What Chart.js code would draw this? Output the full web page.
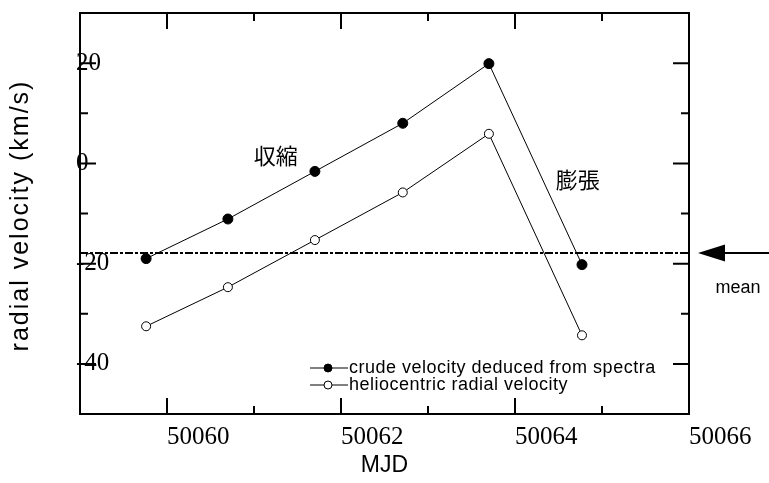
<!DOCTYPE html>
<html>
<head>
<meta charset="utf-8">
<script src="https://cdn.jsdelivr.net/npm/chart.js@4"></script>
<style>
  body { margin: 0; background: #fff; }
  canvas { display: block; }
</style>
</head>
<body>
<canvas id="rvChart" width="769" height="483"></canvas>
<script>
// MJD of each observation
const mjd = [50059.76, 50060.70, 50061.70, 50062.71, 50063.70, 50064.77];
// velocities in km/s
const crudeVelocity = [-19.0, -11.1, -1.6, 8.0, 19.9, -20.2];
const helioVelocity = [-32.5, -24.7, -15.3, -5.8, 5.9, -34.3];
const meanVelocity = -17.9;

const xLabels = [50060, 50062, 50064, 50066];
const yLabels = [20, 0, -20, -40];

const seriesNames = ['crude velocity deduced from spectra', 'heliocentric radial velocity'];
const yTitle = 'radial velocity (km/s)';
const phaseNotes = [
    { text: '収縮', x: 50061.25, y: 1.5 },
    { text: '膨張', x: 50064.72, y: -3.3 }
];

const serif = 'Liberation Serif, Times New Roman, serif';
const sans = 'Liberation Sans, Arial, sans-serif';

const toPoints = (xs, ys) => xs.map((x, i) => ({ x: x, y: ys[i] }));

// frame, inward ticks, y title, arrow, notes and legend
const decorations = {
    id: 'decorations',
    afterDraw(chart) {
        const ctx = chart.ctx;
        const a = chart.chartArea;
        const xs = chart.scales.x;
        const ys = chart.scales.y;
        ctx.save();
        ctx.strokeStyle = '#000';
        ctx.fillStyle = '#000';
        ctx.lineWidth = 2;
        ctx.strokeRect(a.left, a.top, a.right - a.left, a.bottom - a.top);

        ctx.beginPath();
        for (let v = 50059; v <= 50066; v++) {
            const px = xs.getPixelForValue(v);
            const len = v % 2 === 0 ? 16 : 8;
            ctx.moveTo(px, a.bottom); ctx.lineTo(px, a.bottom - len);
            ctx.moveTo(px, a.top); ctx.lineTo(px, a.top + len);
        }
        for (let v = -50; v <= 30; v += 10) {
            const py = ys.getPixelForValue(v);
            const len = v % 20 === 0 ? 16 : 8;
            ctx.moveTo(a.left, py); ctx.lineTo(a.left + len, py);
            ctx.moveTo(a.right, py); ctx.lineTo(a.right - len, py);
        }
        ctx.stroke();

        ctx.textAlign = 'center';
        ctx.textBaseline = 'middle';

        // rotated y axis title, spaced out a little
        ctx.save();
        ctx.translate(21, (a.top + a.bottom) / 2 + 2);
        ctx.rotate(-Math.PI / 2);
        ctx.font = '25px ' + sans;
        ctx.letterSpacing = '2px';
        ctx.fillText(yTitle, 0, 0);
        ctx.restore();

        // arrow pointing at the mean level
        const my = ys.getPixelForValue(meanVelocity);
        const tip = a.right + 9;
        ctx.beginPath();
        ctx.moveTo(tip + 26, my); ctx.lineTo(chart.width, my);
        ctx.stroke();
        ctx.beginPath();
        ctx.moveTo(tip, my);
        ctx.lineTo(tip + 27, my - 8.5);
        ctx.lineTo(tip + 27, my + 8.5);
        ctx.closePath();
        ctx.fill();

        ctx.font = '18px ' + sans;
        ctx.fillText('mean', tip + 40, my + 35);

        ctx.font = '22px "Noto Sans CJK JP", sans-serif';
        phaseNotes.forEach(n => {
            ctx.fillText(n.text, xs.getPixelForValue(n.x), ys.getPixelForValue(n.y));
        });

        // legend: line - marker - line, then the label
        ctx.font = '18px ' + sans;
        ctx.textAlign = 'left';
        ctx.letterSpacing = '0.5px';
        const lx = a.left + 230;
        const rows = [a.bottom - 46, a.bottom - 29];
        chart.data.datasets.slice(0, 2).forEach((ds, i) => {
            const y = rows[i];
            ctx.lineWidth = 1;
            ctx.beginPath();
            ctx.moveTo(lx, y); ctx.lineTo(lx + 38, y);
            ctx.stroke();
            ctx.beginPath();
            ctx.arc(lx + 18, y, 4, 0, Math.PI * 2);
            ctx.fillStyle = ds.pointBackgroundColor;
            ctx.fill();
            ctx.stroke();
            ctx.fillStyle = '#000';
            ctx.fillText(seriesNames[i], lx + 39, y);
        });
        ctx.restore();
    }
};

new Chart(document.getElementById('rvChart'), {
    type: 'line',
    data: {
        datasets: [{
            label: seriesNames[0],
            data: toPoints(mjd, crudeVelocity),
            borderColor: '#000',
            borderWidth: 1,
            pointBackgroundColor: '#000',
            pointBorderColor: '#000',
            pointRadius: 5,
            order: 1
        }, {
            label: seriesNames[1],
            data: toPoints(mjd, helioVelocity),
            borderColor: '#000',
            borderWidth: 1,
            pointBackgroundColor: '#fff',
            pointBorderColor: '#000',
            pointBorderWidth: 1,
            pointRadius: 4.5,
            order: 2
        }, {
            label: 'mean',
            data: [{ x: 50059, y: meanVelocity }, { x: 50066, y: meanVelocity }],
            borderColor: '#000',
            borderWidth: 2,
            borderDash: [8, 2, 3, 2],
            pointRadius: 0,
            order: 3
        }]
    },
    options: {
        responsive: false,
        animation: false,
        layout: { padding: { top: 13, right: 80, left: 0, bottom: 0 } },
        plugins: {
            legend: { display: false },
            tooltip: { enabled: false }
        },
        scales: {
            x: {
                type: 'linear',
                min: 50059,
                max: 50066,
                grid: { display: false },
                border: { display: false },
                ticks: {
                    stepSize: 1,
                    autoSkip: false,
                    maxRotation: 0,
                    align: 'start',
                    padding: 3,
                    color: '#000',
                    font: { family: serif, size: 25, lineHeight: 1 },
                    callback: v => xLabels.includes(v) ? String(v) : ''
                },
                title: {
                    display: true,
                    text: 'MJD',
                    color: '#000',
                    font: { family: sans, size: 23 },
                    padding: { top: 0, bottom: 4 }
                },
                afterFit(scale) {
                    scale.height = 69;
                    scale.paddingLeft = 0;
                    scale.paddingRight = 0;
                }
            },
            y: {
                min: -50,
                max: 30,
                grid: { display: false },
                border: { display: false },
                ticks: {
                    stepSize: 10,
                    autoSkip: false,
                    mirror: true,
                    padding: -4,
                    color: '#000',
                    font: { family: serif, size: 25, lineHeight: 1 },
                    callback: v => yLabels.includes(v) ? String(v) : ''
                },
                afterFit(scale) {
                    scale.width = 80;
                    scale.paddingTop = 0;
                    scale.paddingBottom = 0;
                }
            }
        }
    },
    plugins: [decorations]
});
</script>
</body>
</html>
